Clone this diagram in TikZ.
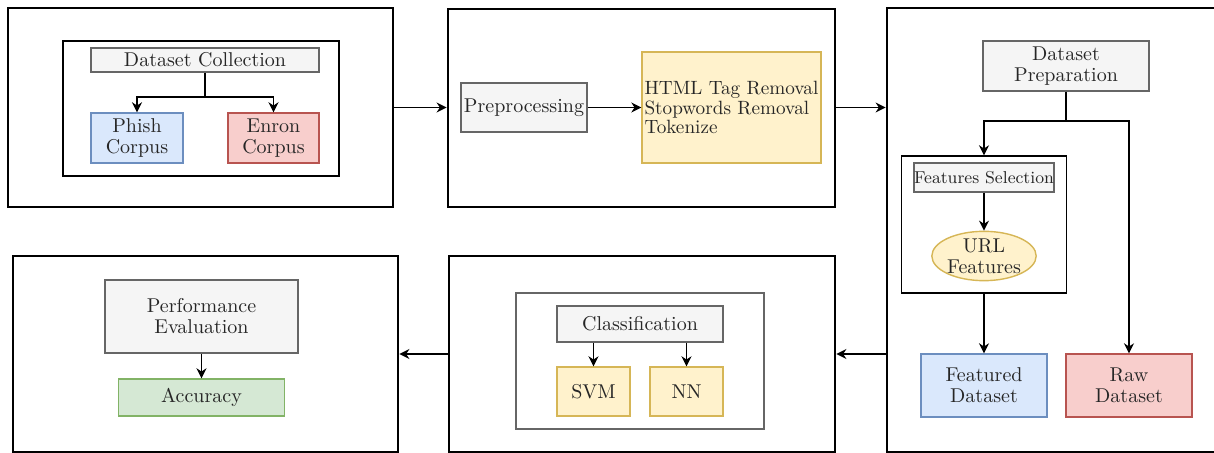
\documentclass[tikz,border=0pt]{standalone}
\usetikzlibrary{arrows.meta,shapes.geometric}
\definecolor{gfill}{HTML}{F5F5F5}\definecolor{gdraw}{HTML}{666666}
\definecolor{bfill}{HTML}{DAE8FC}\definecolor{bdraw}{HTML}{6C8EBF}
\definecolor{rfill}{HTML}{F8CECC}\definecolor{rdraw}{HTML}{B85450}
\definecolor{yfill}{HTML}{FFF2CC}\definecolor{ydraw}{HTML}{D6B656}
\definecolor{nfill}{HTML}{D5E8D4}\definecolor{ndraw}{HTML}{82B366}
\definecolor{txt}{HTML}{262626}
\tikzset{
  sz/.style 2 args={minimum width=#1pt, minimum height=#2pt},
  panel/.style={draw=black, line width=1.4pt, inner sep=0pt, fill=white},
  inbox/.style={draw=black, line width=0.7pt, inner sep=0pt},
  base/.style={inner sep=0pt, line width=0.7pt, align=center, text=txt, font=\fontsize{10}{10.5}\selectfont},
  gbox/.style={base, draw=gdraw, fill=gfill},
  bbox/.style={base, draw=bdraw, fill=bfill},
  rbox/.style={base, draw=rdraw, fill=rfill},
  ybox/.style={base, draw=ydraw, fill=yfill},
  nbox/.style={base, draw=ndraw, fill=nfill},
  arr/.style={line width=0.7pt, -{Stealth[length=5pt,width=5pt]}},
  ln/.style={line width=0.7pt}
}
\begin{document}
\begin{tikzpicture}[x=0.5pt,y=-0.5pt]
\useasboundingbox (0,0) rectangle (1214,453);
\clip (0,0) rectangle (1214,453);
% panels
\node[panel, sz={192.5}{99.5}] (p1) at (200.5,107.5) {};
\node[panel, sz={193.5}{99}] (p2) at (641.5,108) {};
\node[panel, sz={168.5}{222}] (p3) at (1055.5,230) {};
\node[panel, sz={192.5}{98}] (p4) at (205.5,354) {};
\node[panel, sz={193}{98}] (p5) at (642,354) {};
% panel 1
\node[inbox, sz={138}{67.5}] (in1) at (201,108.5) {};
\node[gbox, sz={114}{12}] (dc) at (205,60) {Dataset Collection};
\node[bbox, sz={46}{25}] (phish) at (137,138) {Phish\\Corpus};
\node[rbox, sz={45.5}{25}] (enron) at (273.5,138) {Enron\\Corpus};
\coordinate (j1) at (205,97);
\draw[ln] (dc.south) -- (j1);
\draw[arr] (j1) -| (phish.north);
\draw[arr] (j1) -| (enron.north);
% panel 2
\node[gbox, sz={63}{24.5}] (pre) at (524,107.5) {Preprocessing};
\node[ybox, sz={89.5}{55.5}, text width=87pt, align=left, font=\fontsize{9.6}{9.8}\selectfont] (html) at (731.5,107.5) {HTML Tag Removal\\Stopwords Removal\\Tokenize};
\draw[arr] (pre.east) -- (html.west);
% panel 3
\node[gbox, sz={83}{25}] (dp) at (1066,66) {Dataset\\Preparation};
\coordinate (j3) at (1066,121);
\node[inbox, sz={82.5}{68.5}] (fbox) at (984,224.5) {};
\node[gbox, sz={69}{14.5}, font=\fontsize{8.6}{9}\selectfont] (fs) at (984,177.5) {Features Selection};
\node[ellipse, base, draw=ydraw, fill=yfill, sz={49}{24}] (url) at (984,256) {URL\\Features};
\node[bbox, sz={63}{31.5}] (fd) at (984,385.5) {Featured\\Dataset};
\node[rbox, sz={63}{31.5}] (raw) at (1129,385.5) {Raw\\Dataset};
\draw[ln] (dp.south) -- (j3);
\draw[arr] (j3) -| (fbox.north);
\draw[arr] (j3) -| (raw.north);
\draw[arr] (fs.south) -- (url.north);
\draw[arr] (fbox.south) -- (fd.north);
% panel 4
\node[gbox, sz={96.5}{36.5}] (pe) at (201.5,316.5) {Performance\\Evaluation};
\node[nbox, sz={83}{18.5}] (acc) at (201.5,397.5) {Accuracy};
\draw[arr] (pe.south) -- (acc.north);
% panel 5
\node[inbox, draw=gdraw, line width=1pt, sz={124}{68}] (in5) at (640,361) {};
\node[gbox, sz={83}{18}] (cls) at (640,324) {Classification};
\node[ybox, sz={36.5}{24.5}] (svm) at (593.5,391.5) {SVM};
\node[ybox, sz={36.5}{24.5}] (nn) at (686.5,391.5) {NN};
\draw[arr] (svm.north |- cls.south) -- (svm.north);
\draw[arr] (nn.north |- cls.south) -- (nn.north);
% panel connectors
\draw[arr] (p1.east) -- (p1.east -| p2.west);
\draw[arr] (p2.east |- pre.east) -- (pre.east -| p3.west);
\draw[arr] (p5.east -| p3.west) -- (p5.east);
\draw[arr] (p5.west) -- (p5.west -| p4.east);
\end{tikzpicture}
\end{document}
